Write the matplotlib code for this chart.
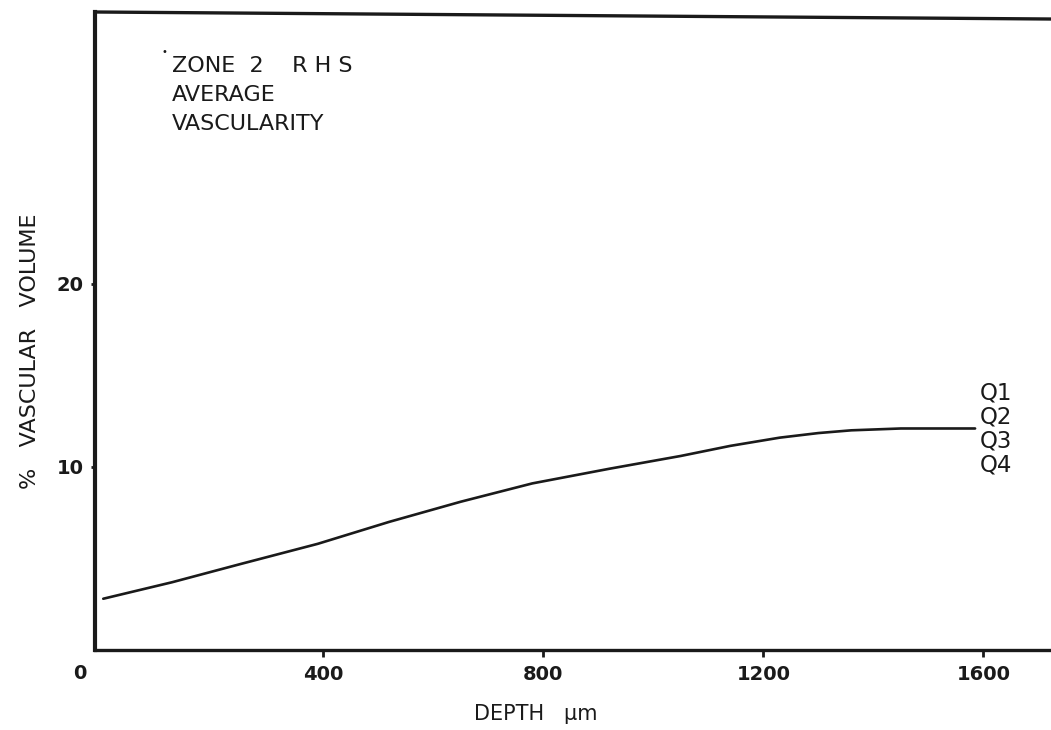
import matplotlib
matplotlib.use("Agg")
import matplotlib.pyplot as plt

# Average vascular volume with depth, zone 2 RHS
depth_um = [0, 125, 250, 390, 520, 650, 780, 920, 1050, 1140, 1230, 1300, 1360, 1450, 1585]
vascular_pct = [2.8, 3.7, 4.7, 5.8, 7.0, 8.1, 9.1, 9.9, 10.6, 11.15, 11.6, 11.85, 12.0, 12.1, 12.1]

x_ticks = [400, 800, 1200, 1600]
y_ticks = [10, 20]
quadrants = ["Q1", "Q2", "Q3", "Q4"]
title_lines = ["ZONE  2    R H S", "AVERAGE", "VASCULARITY"]

plt.rcParams["font.family"] = ["DejaVu Sans"]
INK = "#1a1a1a"

fig = plt.figure(figsize=(10.51, 7.30), dpi=100)
ax = fig.add_axes([95 / 1051, 80 / 730, 1 - 95 / 1051, (650 - 12) / 730])

ax.plot(depth_um, vascular_pct, color=INK, lw=1.9, solid_capstyle="round")

ax.set_xlim(-15, 1723)
ax.set_ylim(0, 34.85)

for side in ("right", "top"):
    ax.spines[side].set_visible(False)
ax.spines["left"].set_linewidth(3.0)
ax.spines["bottom"].set_linewidth(2.4)
ax.spines["left"].set_color(INK)
ax.spines["bottom"].set_color(INK)
# slightly sloping upper border
ax.plot([0, 1], [1.0, 0.989], transform=ax.transAxes, color=INK,
        lw=2.4, clip_on=False)

ax.set_xticks(x_ticks)
ax.set_xticklabels([str(v) for v in x_ticks], fontsize=14, fontweight="bold")
ax.set_yticks(y_ticks)
ax.set_yticklabels([str(v) for v in y_ticks], fontsize=14, fontweight="bold")
ax.tick_params(axis="x", direction="out", length=5, width=2, pad=6, colors=INK)
ax.tick_params(axis="y", direction="out", length=3, width=2, pad=5, colors=INK)

# origin label sits left of the corner
ax.text(-0.009, -0.037, "0", transform=ax.transAxes, fontsize=14,
        fontweight="bold", ha="right", va="center", color=INK)

ax.set_xlabel("DEPTH   \u03bcm", fontsize=15, labelpad=14, color=INK,
              x=(536 - 95) / (1051 - 95))
ax.set_ylabel("%   VASCULAR   VOLUME", fontsize=16, labelpad=12, color=INK,
              y=(649 - 350) / 638)

# heading block
for i, line in enumerate(title_lines):
    fig.text(172 / 1051, 1 - (66 + i * 29) / 730, line, fontsize=16,
             ha="left", va="center", color=INK)
fig.text(164 / 1051, 1 - 52 / 730, "\u2022", fontsize=7, ha="center",
         va="center", color=INK)

# quadrant labels at the end of the curve
for i, q in enumerate(quadrants):
    fig.text(980 / 1051, 1 - (393 + i * 24) / 730, q, fontsize=16.5,
             ha="left", va="center", color=INK)

fig.savefig("out.png", dpi=100, facecolor="white")
